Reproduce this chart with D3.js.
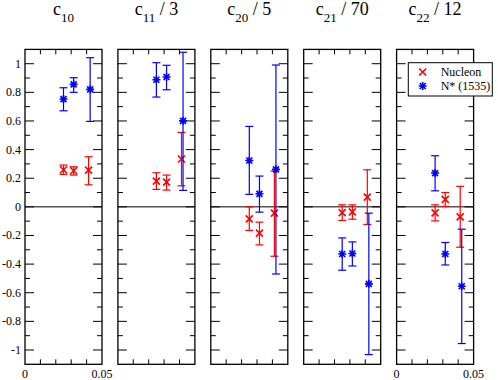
<!DOCTYPE html>
<html>
<head>
<meta charset="utf-8">
<script src="https://cdn.jsdelivr.net/npm/d3@7"></script>
<style>
  html, body { margin: 0; padding: 0; background: #fff; }
  svg { display: block; }
</style>
</head>
<body>
<svg id="chart" width="498" height="380"></svg>
<script>
// panel titles: c_sub + suffix
const titleSubs = ["10", "11", "20", "21", "22"];
const titleSuffixes = ["", " / 3", " / 5", " / 70", " / 12"];

// x positions (same in every panel)
const nucleonX = [0.025, 0.0316, 0.0413];
const nstarX = [0.025, 0.0316, 0.0423];

// [value, upper, lower] per point, one row per panel
const nucleonData = [
  [[0.259, 0.292, 0.227], [0.252, 0.28, 0.222], [0.257, 0.35, 0.154]],
  [[0.18, 0.238, 0.122], [0.173, 0.222, 0.117], [0.334, 0.52, 0.147]],
  [[-0.084, 0.0, -0.165], [-0.184, -0.107, -0.266], [-0.044, 0.25, -0.345]],
  [[-0.04, 0.014, -0.095], [-0.035, 0.014, -0.086], [0.068, 0.259, -0.123]],
  [[-0.042, 0.014, -0.098], [0.052, 0.1, 0.003], [-0.07, 0.143, -0.282]]
];
const nstarData = [
  [[0.753, 0.832, 0.671], [0.856, 0.902, 0.8], [0.821, 1.042, 0.597]],
  [[0.888, 1.007, 0.767], [0.907, 0.989, 0.818], [0.601, 1.08, 0.115]],
  [[0.324, 0.562, 0.087], [0.091, 0.215, -0.037], [0.262, 0.991, -0.469]],
  [[-0.329, -0.217, -0.443], [-0.326, -0.245, -0.413], [-0.538, -0.044, -1.032]],
  [[0.236, 0.357, 0.112], [-0.329, -0.249, -0.406], [-0.555, -0.156, -0.955]]
];

const yMajorTicks = [-1, -0.8, -0.6, -0.4, -0.2, 0, 0.2, 0.4, 0.6, 0.8, 1];
const yMinorTicks = [-0.9, -0.7, -0.5, -0.3, -0.1, 0.1, 0.3, 0.5, 0.7, 0.9];
const xMinorTicks = [0.01, 0.02, 0.03, 0.04];
const xLabelTicks = [0, 0.05];

const legendLabels = ["Nucleon", "N* (1535)"];
const red = "#ff0000";
const blue = "#0000ff";
const serif = "'Liberation Serif', 'Times New Roman', serif";

const svg = d3.select("#chart");
const panelLeft = 25;
const panelStep = 92.9;
const panelWidth = 77;
const plotTop = 49.4;
const plotBottom = 364.3;

const y = d3.scaleLinear().domain([-1.1, 1.1]).range([plotBottom, plotTop]);

function drawCross(g, cx, cy, r, color) {
  g.append("path")
    .attr("d", `M${cx - r},${cy - r}L${cx + r},${cy + r}M${cx - r},${cy + r}L${cx + r},${cy - r}`)
    .attr("stroke", color).attr("stroke-width", 1.6).attr("fill", "none");
}

function drawStar(g, cx, cy, r, color) {
  const d = r * 0.75;
  g.append("path")
    .attr("d", `M${cx},${cy - r}L${cx},${cy + r}M${cx - r},${cy}L${cx + r},${cy}` +
      `M${cx - d},${cy - d}L${cx + d},${cy + d}M${cx - d},${cy + d}L${cx + d},${cy - d}`)
    .attr("stroke", color).attr("stroke-width", 1.6).attr("fill", "none");
}

function drawSeries(g, x, xs, rows, color, marker) {
  rows.forEach((row, i) => {
    const px = x(xs[i]);
    const [v, hi, lo] = row;
    g.append("line")
      .attr("x1", px).attr("x2", px).attr("y1", y(hi)).attr("y2", y(lo))
      .attr("stroke", color).attr("stroke-width", 1.2);
    [hi, lo].forEach((e) => {
      g.append("line")
        .attr("x1", px - 4).attr("x2", px + 4).attr("y1", y(e)).attr("y2", y(e))
        .attr("stroke", color).attr("stroke-width", 1.2);
    });
    marker(g, px, y(v), marker === drawStar ? 4 : 3.5, color);
  });
}

titleSubs.forEach((sub, p) => {
  const left = panelLeft + p * panelStep;
  const x = d3.scaleLinear().domain([0, 0.05]).range([left, left + panelWidth]);
  const g = svg.append("g");

  // title
  const title = g.append("text")
    .attr("x", left + panelWidth / 2).attr("y", 15)
    .attr("text-anchor", "middle")
    .attr("font-family", serif).attr("font-size", 18);
  title.append("tspan").text("c");
  title.append("tspan").attr("font-size", 13).attr("dy", 6.5).text(sub);
  if (titleSuffixes[p]) {
    title.append("tspan").attr("dy", -6.5).text(titleSuffixes[p]);
  }

  // ticks on all four sides
  yMajorTicks.forEach((t) => {
    g.append("line").attr("x1", left).attr("x2", left + 9).attr("y1", y(t)).attr("y2", y(t))
      .attr("stroke", "#000").attr("stroke-width", 1);
    g.append("line").attr("x1", left + panelWidth - 9).attr("x2", left + panelWidth).attr("y1", y(t)).attr("y2", y(t))
      .attr("stroke", "#000").attr("stroke-width", 1);
  });
  yMinorTicks.forEach((t) => {
    g.append("line").attr("x1", left).attr("x2", left + 5).attr("y1", y(t)).attr("y2", y(t))
      .attr("stroke", "#000").attr("stroke-width", 1);
    g.append("line").attr("x1", left + panelWidth - 5).attr("x2", left + panelWidth).attr("y1", y(t)).attr("y2", y(t))
      .attr("stroke", "#000").attr("stroke-width", 1);
  });
  xMinorTicks.forEach((t) => {
    g.append("line").attr("x1", x(t)).attr("x2", x(t)).attr("y1", plotTop).attr("y2", plotTop + 5)
      .attr("stroke", "#000").attr("stroke-width", 1);
    g.append("line").attr("x1", x(t)).attr("x2", x(t)).attr("y1", plotBottom - 5).attr("y2", plotBottom)
      .attr("stroke", "#000").attr("stroke-width", 1);
  });

  // zero line
  g.append("line").attr("x1", left).attr("x2", left + panelWidth).attr("y1", y(0)).attr("y2", y(0))
    .attr("stroke", "#000").attr("stroke-width", 1);

  drawSeries(g, x, nucleonX, nucleonData[p], red, drawCross);
  drawSeries(g, x, nstarX, nstarData[p], blue, drawStar);

  g.append("rect")
    .attr("x", left).attr("y", plotTop).attr("width", panelWidth).attr("height", plotBottom - plotTop)
    .attr("fill", "none").attr("stroke", "#000").attr("stroke-width", 1.3);

  if (p === 0) {
    yMajorTicks.forEach((t) => {
      g.append("text")
        .attr("x", left - 4).attr("y", y(t) + 4)
        .attr("text-anchor", "end")
        .attr("font-family", serif).attr("font-size", 12)
        .text(t === 0 ? "0" : String(t));
    });
  }
  if (p === 0 || p === titleSubs.length - 1) {
    xLabelTicks.forEach((t) => {
      g.append("text")
        .attr("x", x(t)).attr("y", 378)
        .attr("text-anchor", "middle")
        .attr("font-family", serif).attr("font-size", 12)
        .text(String(t));
    });
  }
});

// legend
const legend = svg.append("g");
legend.append("rect")
  .attr("x", 408.3).attr("y", 62.7).attr("width", 84).attr("height", 33.3)
  .attr("fill", "#fff").attr("stroke", "#000").attr("stroke-width", 1);
drawCross(legend, 422.7, 72, 3.5, red);
drawStar(legend, 422.7, 86, 4, blue);
legendLabels.forEach((label, i) => {
  legend.append("text")
    .attr("x", 440.7).attr("y", 76 + i * 14)
    .attr("font-family", serif).attr("font-size", 12)
    .text(label);
});
</script>
</body>
</html>
